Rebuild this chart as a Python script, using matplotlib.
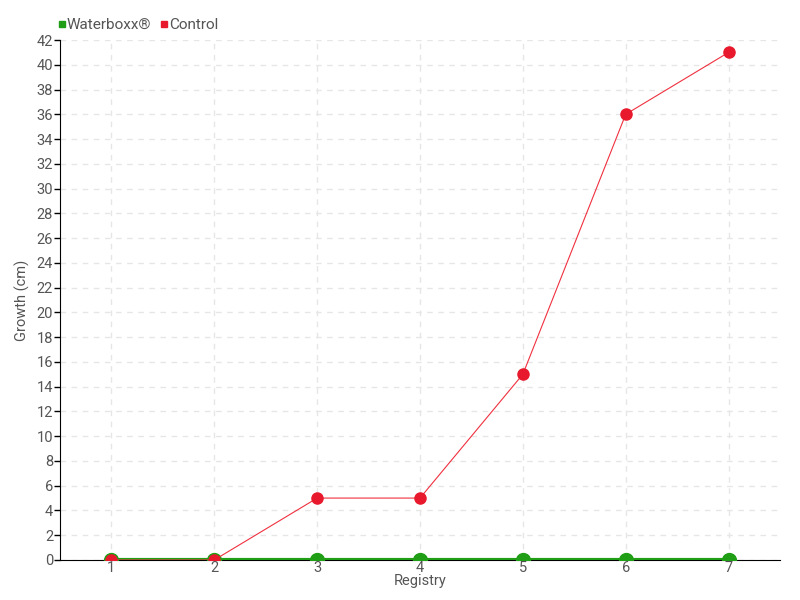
import matplotlib
matplotlib.use("Agg")
import matplotlib.pyplot as plt
from matplotlib.lines import Line2D

categories = ["1", "2", "3", "4", "5", "6", "7"]
waterboxx = [0, 0, 0, 0, 0, 0, 0]
control = [0, 0, 5, 5, 15, 36, 41]
yticks = list(range(0, 43, 2))

plt.rcParams['font.family'] = ['Roboto', 'DejaVu Sans']
txt = '#555555'
green = '#1f9e16'
red = '#e8192c'

fig = plt.figure(figsize=(8, 6), dpi=100)
ax = fig.add_axes([0.075, 0.0667, 0.9, 0.8666])
x = list(range(1, len(categories) + 1))

ax.plot(x, waterboxx, color=green, lw=3, marker='o', ms=10, mfc=green, mec=green, zorder=3)
ax.plot(x, control, color='#f0303f', lw=0.8, zorder=4)
ax.plot(x, control, color=red, lw=0, marker='o', ms=8, mfc=red, mec=red, zorder=5)

ax.set_xlim(0.5, 7.5)
ax.set_ylim(0, 42)
ax.set_yticks(yticks)
ax.set_xticks(x)
ax.set_xticklabels(categories)
ax.grid(True, color='#e6e6e6', linestyle=(0, (4, 4)), lw=1)
ax.set_axisbelow(True)
for s in ['top', 'right']:
    ax.spines[s].set_visible(False)
ax.spines['left'].set_color('black')
ax.spines['bottom'].set_color('black')
ax.tick_params(axis='y', length=4, width=1, colors='black', labelcolor=txt, labelsize=10.5, pad=1)
ax.tick_params(axis='x', length=0, labelcolor=txt, labelsize=10.5, pad=1)
ax.set_ylabel('Growth (cm)', color=txt, fontsize=10.5)
ax.set_xlabel('Registry', color=txt, fontsize=10.5)
ax.yaxis.set_label_coords(-0.041, 0.5)
ax.xaxis.set_label_coords(0.5, -0.027)

handles = [Line2D([], [], ls='', marker='s', ms=5, color=green),
           Line2D([], [], ls='', marker='s', ms=5, color=red)]
leg = fig.legend(handles, ['Waterboxx®', 'Control'], loc='upper left', bbox_to_anchor=(0.054, 0.993),
                 ncol=2, frameon=False, handletextpad=0.05, columnspacing=0.5, handlelength=0.6,
                 fontsize=11)
for t in leg.get_texts():
    t.set_color(txt)

fig.savefig('out.png', dpi=100)
